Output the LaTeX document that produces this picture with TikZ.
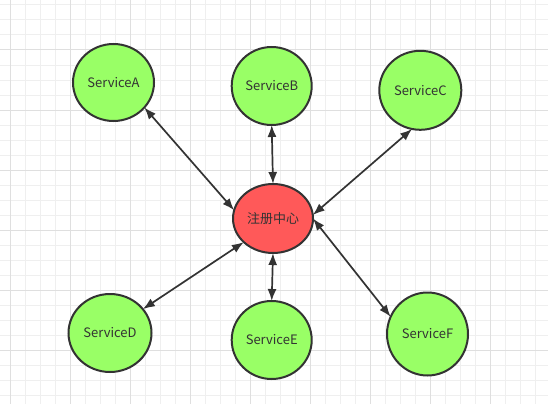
\documentclass[tikz,border=0pt]{standalone}
\usepackage{fontspec}
\setmainfont{Noto Sans CJK SC}
\usetikzlibrary{shapes.geometric,arrows.meta}
\definecolor{gridminor}{HTML}{EFEFEF}
\definecolor{gridmajor}{HTML}{DFDFDF}
\definecolor{nodegreen}{HTML}{99FF66}
\definecolor{nodered}{HTML}{FF5959}
\definecolor{ink}{HTML}{333333}
\begin{document}
\begin{tikzpicture}[x=1pt,y=-1pt,
  svc/.style={ellipse, draw=ink, line width=2pt, fill=nodegreen, inner sep=0pt, outer sep=0pt, text=ink, font=\fontsize{13}{15}\selectfont},
  hub/.style={svc, fill=nodered},
  link/.style={draw=ink, line width=1.7pt, {Latex[length=12pt,width=9pt]}-{Latex[length=12pt,width=9pt]}},
  minorline/.style={draw=gridminor, line width=1pt},
  majorline/.style={draw=gridmajor, line width=1pt}]
\fill[white] (0,0) rectangle (548,404);
\useasboundingbox (0,0) rectangle (548,404);
\foreach \x in {10,25,...,548} \draw[minorline] (\x,0) -- (\x,404);
\foreach \y in {5,20,...,404} \draw[minorline] (0,\y) -- (548,\y);
\foreach \x in {10,70,...,548} \draw[majorline] (\x,0) -- (\x,404);
\foreach \y in {50,110,...,404} \draw[majorline] (0,\y) -- (548,\y);

\node[svc, minimum width=81pt, minimum height=77pt] (a) at (113.5,82.5) {ServiceA};
\node[svc, minimum width=80pt, minimum height=78pt] (b) at (271.7,86) {ServiceB};
\node[svc, minimum width=82pt, minimum height=79pt] (c) at (420.3,90.3) {ServiceC};
\node[hub, minimum width=80pt, minimum height=69pt] (h) at (273,218.5) {注册中心};
\node[svc, minimum width=83pt, minimum height=78pt] (d) at (110,333) {ServiceD};
\node[svc, minimum width=80pt, minimum height=78pt] (e) at (271.7,340) {ServiceE};
\node[svc, minimum width=81pt, minimum height=83pt] (f) at (427.5,334) {ServiceF};

\draw[link] (a.-39.5) -- (h.168);
\draw[link] (b.-90) -- (h.90);
\draw[link] (c.-102) -- (h.5);
\draw[link] (d.36.6) -- (h.-141);
\draw[link] (e.90) -- (h.-90);
\draw[link] (f.155.8) -- (h.0);
\end{tikzpicture}
\end{document}
